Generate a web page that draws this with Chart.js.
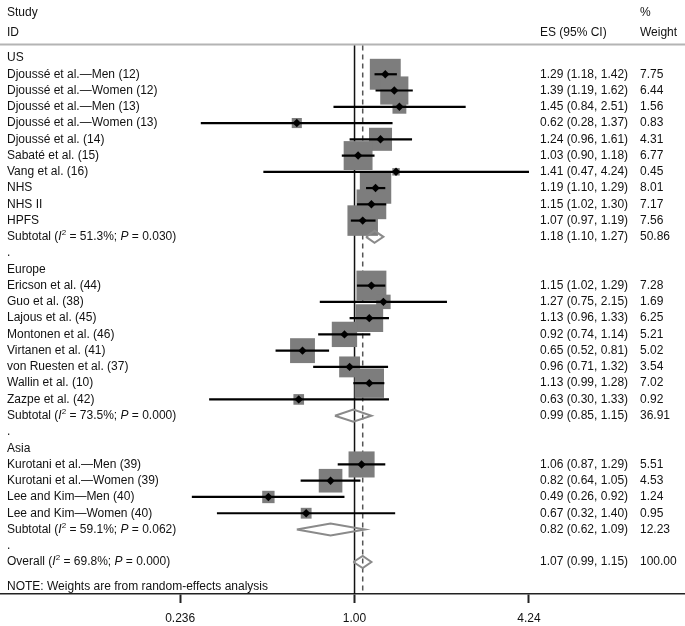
<!DOCTYPE html>
<html>
<head>
<meta charset="utf-8">
<script src="https://cdn.jsdelivr.net/npm/chart.js@4.4.0/dist/chart.umd.min.js"></script>
<style>
html, body { margin: 0; padding: 0; background: #fff; }
</style>
</head>
<body>
<canvas id="forest" width="685" height="626"></canvas>
<script>
var fontFam = '"Liberation Sans", Arial, Helvetica, sans-serif';

// studies (ES, 95% CI, % weight) and the row they sit on
var studyNames = ['Djoussé et al.—Men (12)', 'Djoussé et al.—Women (12)', 'Djoussé et al.—Men (13)',
  'Djoussé et al.—Women (13)', 'Djoussé et al. (14)', 'Sabaté et al. (15)', 'Vang et al. (16)',
  'NHS', 'NHS II', 'HPFS',
  'Ericson et al. (44)', 'Guo et al. (38)', 'Lajous et al. (45)', 'Montonen et al. (46)',
  'Virtanen et al. (41)', 'von Ruesten et al. (37)', 'Wallin et al. (10)', 'Zazpe et al. (42)',
  'Kurotani et al.—Men (39)', 'Kurotani et al.—Women (39)', 'Lee and Kim—Men (40)', 'Lee and Kim—Women (40)'];
var studyES = [1.29, 1.39, 1.45, 0.62, 1.24, 1.03, 1.41, 1.19, 1.15, 1.07,
  1.15, 1.27, 1.13, 0.92, 0.65, 0.96, 1.13, 0.63,
  1.06, 0.82, 0.49, 0.67];
var studyLo = [1.18, 1.19, 0.84, 0.28, 0.96, 0.90, 0.47, 1.10, 1.02, 0.97,
  1.02, 0.75, 0.96, 0.74, 0.52, 0.71, 0.99, 0.30,
  0.87, 0.64, 0.26, 0.32];
var studyHi = [1.42, 1.62, 2.51, 1.37, 1.61, 1.18, 4.24, 1.29, 1.30, 1.19,
  1.29, 2.15, 1.33, 1.14, 0.81, 1.32, 1.28, 1.33,
  1.29, 1.05, 0.92, 1.40];
var studyWeight = [7.75, 6.44, 1.56, 0.83, 4.31, 6.77, 0.45, 8.01, 7.17, 7.56,
  7.28, 1.69, 6.25, 5.21, 5.02, 3.54, 7.02, 0.92,
  5.51, 4.53, 1.24, 0.95];
var studyRow = [1, 2, 3, 4, 5, 6, 7, 8, 9, 10,
  14, 15, 16, 17, 18, 19, 20, 21,
  25, 26, 27, 28];

// regions and subtotals
var regionNames = ['US', 'Europe', 'Asia'];
var regionRow = [0, 13, 24];
var subES = [1.18, 0.99, 0.82];
var subLo = [1.10, 0.85, 0.62];
var subHi = [1.27, 1.15, 1.09];
var subWeight = [50.86, 36.91, 12.23];
var subI2 = ['51.3%', '73.5%', '59.1%'];
var subP = ['0.030', '0.000', '0.062'];
var subRow = [11, 22, 29];
var dotRow = [12, 23, 30];

// overall
var overallES = 1.07, overallLo = 0.99, overallHi = 1.15, overallWeight = 100.00;
var overallI2 = '69.8%', overallP = '0.000', overallRow = 31;
var noteText = 'NOTE: Weights are from random-effects analysis';
var noteRow = 32.5;

// x axis
var xTicks = [0.236, 1.00, 4.24];
var xTickLabels = ['0.236', '1.00', '4.24'];

// layout (rows are 16.26px apart, US row at y=58)
var yMin = -3.5675, yMax = 32.968;
var xMin = 0.0531, xMax = 15.43;
var lineTop = -0.77;
var diamondHalf = 0.37;

function ciSets() {
  return studyES.map(function (es, i) {
    return {
      data: [{ x: studyLo[i], y: studyRow[i] }, { x: studyHi[i], y: studyRow[i] }],
      showLine: true, borderColor: '#000', borderWidth: 2.2, pointRadius: 0, order: 2
    };
  });
}

function diamondSet(es, lo, hi, row) {
  return {
    data: [{ x: lo, y: row }, { x: es, y: row - diamondHalf }, { x: hi, y: row },
      { x: es, y: row + diamondHalf }, { x: lo, y: row }],
    showLine: true, borderColor: '#8a8a8a', borderWidth: 2, pointRadius: 0, order: 1
  };
}

var datasets = [];
// reference lines: null effect and overall estimate
datasets.push({ data: [{ x: 1, y: lineTop }, { x: 1, y: yMax }], showLine: true,
  borderColor: '#111', borderWidth: 1.5, pointRadius: 0, order: 6 });
datasets.push({ data: [{ x: overallES, y: lineTop }, { x: overallES, y: yMax }], showLine: true,
  borderColor: '#555', borderWidth: 1.5, borderDash: [5, 4], pointRadius: 0, order: 5 });
// weight boxes
datasets.push({
  data: studyES.map(function (v, i) { return { x: v, y: studyRow[i] }; }),
  pointStyle: 'rect',
  pointRadius: studyWeight.map(function (w) { return 11.1 * Math.sqrt(w) / Math.SQRT2; }),
  backgroundColor: '#7d7d7d', borderWidth: 0, order: 3
});
datasets = datasets.concat(ciSets());
// point estimates
datasets.push({
  data: studyES.map(function (v, i) { return { x: v, y: studyRow[i] }; }),
  pointStyle: 'rectRot', pointRadius: 4.2, backgroundColor: '#000', borderWidth: 0, order: 0
});
for (var k = 0; k < subES.length; k++) {
  datasets.push(diamondSet(subES[k], subLo[k], subHi[k], subRow[k]));
}
datasets.push(diamondSet(overallES, overallLo, overallHi, overallRow));

function f2(v) { return v.toFixed(2); }

function drawRich(ctx, parts, x, y) {
  parts.forEach(function (p) {
    var dy = 0;
    if (p[1] === 'i') ctx.font = 'italic 12px ' + fontFam;
    else if (p[1] === 's') { ctx.font = '8px ' + fontFam; dy = -4; }
    else ctx.font = '12px ' + fontFam;
    ctx.fillText(p[0], x, y + dy);
    x += ctx.measureText(p[0]).width;
  });
  ctx.font = '12px ' + fontFam;
}

function statParts(head, i2, p) {
  return [[head + ' (', 'n'], ['I', 'i'], ['2', 's'], [' = ' + i2 + '; ', 'n'], ['P', 'i'], [' = ' + p + ')', 'n']];
}

var forestText = {
  id: 'forestText',
  beforeDatasetsDraw: function (chart) {
    var ctx = chart.ctx;
    var yy = Math.round(chart.scales.y.getPixelForValue(lineTop)) - 0.5;
    ctx.save();
    ctx.strokeStyle = '#b4b4b4';
    ctx.lineWidth = 2;
    ctx.beginPath();
    ctx.moveTo(0, yy);
    ctx.lineTo(chart.width, yy);
    ctx.stroke();
    ctx.restore();
  },
  afterDraw: function (chart) {
    var ctx = chart.ctx, ys = chart.scales.y;
    var xLab = 7, xES = 540, xW = 640;
    ctx.save();
    ctx.fillStyle = '#111';
    ctx.textBaseline = 'middle';
    ctx.font = '12px ' + fontFam;

    // column headers
    ctx.fillText('Study', xLab, 13);
    ctx.fillText('ID', xLab, 33);
    ctx.fillText('ES (95% CI)', xES, 33);
    ctx.fillText('%', xW, 13);
    ctx.fillText('Weight', xW, 33);

    regionNames.forEach(function (n, i) {
      ctx.fillText(n, xLab, ys.getPixelForValue(regionRow[i]));
    });
    studyNames.forEach(function (n, i) {
      var py = ys.getPixelForValue(studyRow[i]);
      ctx.fillText(n, xLab, py);
      ctx.fillText(f2(studyES[i]) + ' (' + f2(studyLo[i]) + ', ' + f2(studyHi[i]) + ')', xES, py);
      ctx.fillText(f2(studyWeight[i]), xW, py);
    });
    subES.forEach(function (v, i) {
      var py = ys.getPixelForValue(subRow[i]);
      drawRich(ctx, statParts('Subtotal', subI2[i], subP[i]), xLab, py);
      ctx.fillText(f2(v) + ' (' + f2(subLo[i]) + ', ' + f2(subHi[i]) + ')', xES, py);
      ctx.fillText(f2(subWeight[i]), xW, py);
    });
    dotRow.forEach(function (r) {
      ctx.fillText('.', xLab, ys.getPixelForValue(r));
    });
    var po = ys.getPixelForValue(overallRow);
    drawRich(ctx, statParts('Overall', overallI2, overallP), xLab, po);
    ctx.fillText(f2(overallES) + ' (' + f2(overallLo) + ', ' + f2(overallHi) + ')', xES, po);
    ctx.fillText(f2(overallWeight), xW, po);
    ctx.fillText(noteText, xLab, ys.getPixelForValue(noteRow));
    ctx.restore();
  }
};

new Chart(document.getElementById('forest'), {
  type: 'scatter',
  data: { datasets: datasets },
  plugins: [forestText],
  options: {
    responsive: false,
    animation: false,
    devicePixelRatio: 1,
    layout: { padding: 0, autoPadding: false },
    events: [],
    plugins: { legend: { display: false }, tooltip: { enabled: false } },
    scales: {
      x: {
        type: 'logarithmic',
        min: xMin,
        max: xMax,
        afterBuildTicks: function (s) { s.ticks = xTicks.map(function (v) { return { value: v }; }); },
        afterFit: function (s) { s.height = 32; },
        ticks: {
          autoSkip: false, maxRotation: 0, padding: 8, color: '#111',
          font: { size: 12, family: fontFam },
          callback: function (v, i) { return xTickLabels[i]; }
        },
        grid: { drawOnChartArea: false, drawTicks: true, tickLength: 9, tickWidth: 2, tickColor: '#222' },
        border: { display: true, color: '#222', width: 1.5 }
      },
      y: {
        type: 'linear',
        reverse: true,
        display: false,
        min: yMin,
        max: yMax
      }
    }
  }
});
</script>
</body>
</html>
